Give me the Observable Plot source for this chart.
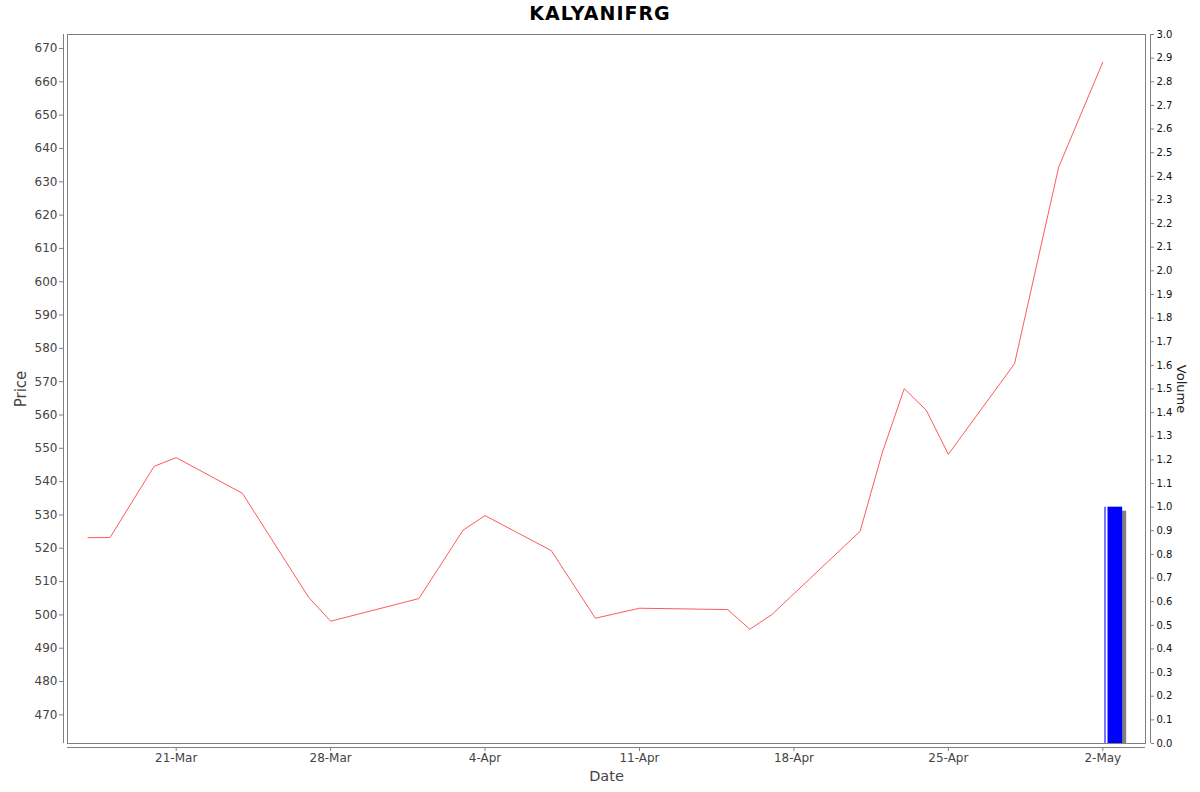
<!DOCTYPE html>
<html><head><meta charset="utf-8">
<script src="https://cdn.jsdelivr.net/npm/d3@7"></script>
<script src="https://cdn.jsdelivr.net/npm/@observablehq/plot@0.6"></script>
<style>
body{margin:0;background:#fff;font-family:"DejaVu Sans",sans-serif;}
#title{height:26px;line-height:27px;text-align:center;font-weight:bold;font-size:19px;letter-spacing:1px;color:#000;}
#wrap{position:relative;width:1200px;height:766px;}
#wrap svg{position:absolute;left:0;top:0;}
</style></head><body>
<div id="title">KALYANIFRG</div>
<div id="wrap"></div>
<script>
const dates = ["2025-03-17","2025-03-18","2025-03-20","2025-03-21","2025-03-24","2025-03-27","2025-03-28",
  "2025-04-01","2025-04-03","2025-04-04","2025-04-07","2025-04-09","2025-04-11","2025-04-15","2025-04-16",
  "2025-04-17","2025-04-21","2025-04-22","2025-04-23","2025-04-24","2025-04-25","2025-04-28","2025-04-30","2025-05-02"];
const prices = [523.2,523.2,544.6,547.2,536.5,505.3,498.1,504.9,525.4,529.8,519.3,499.0,502.0,501.6,495.7,
  500.1,525.1,548.6,567.9,561.4,548.2,575.4,634.4,665.9];
const volDates = ["2025-05-02"];
const volumes = [1.0];
const priceTicks = [470,480,490,500,510,520,530,540,550,560,570,580,590,600,610,620,630,640,650,660,670];
const volumeTicks = [0.0,0.1,0.2,0.3,0.4,0.5,0.6,0.7,0.8,0.9,1.0,1.1,1.2,1.3,1.4,1.5,1.6,1.7,1.8,1.9,2.0,
  2.1,2.2,2.3,2.4,2.5,2.6,2.7,2.8,2.9,3.0];
const dateTicks = ["2025-03-21","2025-03-28","2025-04-04","2025-04-11","2025-04-18","2025-04-25","2025-05-02"];

const parse = s => new Date(s + "T00:00:00Z");
const data = dates.map((d, i) => ({date: parse(d), price: prices[i]}));
const volData = volDates.map((d, i) => ({date: parse(d), volume: volumes[i]}));
const day = 864e5;
const xDomain = [new Date(Date.UTC(2025, 2, 16, 1, 45)), new Date(Date.UTC(2025, 4, 3, 22, 27))];
const yDomain = [461.4, 674.2];
const gray = "#808080";
const font = "DejaVu Sans, sans-serif";
const common = {width: 1200, height: 766, marginTop: 8, marginBottom: 49, marginLeft: 67, marginRight: 55};

const pricePlot = Plot.plot({
  ...common,
  x: {type: "utc", domain: xDomain},
  y: {domain: yDomain},
  style: {fontFamily: font, background: "white", overflow: "visible"},
  marks: [
    Plot.frame({stroke: gray}),
    Plot.ruleX([xDomain[0]], {stroke: gray, dx: -4}),
    Plot.ruleY([yDomain[0]], {stroke: gray, dy: 4}),
    Plot.axisY({anchor: "left", ticks: priceTicks, tickSize: 4, tickPadding: 2, dx: -4, fontSize: 12,
      fill: "#444", stroke: gray, label: null}),
    Plot.axisX({anchor: "bottom", ticks: dateTicks.map(parse), tickFormat: d3.utcFormat("%-d-%b"),
      tickSize: 4, tickPadding: 2, dy: 4, fontSize: 12, fill: "#444", stroke: gray, label: null}),
    Plot.line(data, {x: "date", y: "price", stroke: "#ff5a5a", strokeWidth: 1}),
    Plot.text(["Price"], {frameAnchor: "left", dx: -46.5, rotate: -90, textAnchor: "middle", fontSize: 15, fill: "#444"}),
    Plot.text(["Date"], {frameAnchor: "bottom", dy: 37, textAnchor: "middle", fontSize: 14.5, fill: "#444"})
  ]
});

const bx1 = d => new Date(+d.date + 0.1 * day);
const bx2 = d => new Date(+d.date + 0.9 * day);
const volPlot = Plot.plot({
  ...common,
  x: {type: "utc", domain: xDomain, axis: null},
  y: {domain: [0, 3]},
  style: {fontFamily: font, background: "transparent", overflow: "visible"},
  marks: [
    Plot.rectY(volData, {x1: bx1, x2: bx2, y: "volume", fill: gray, dx: 4, dy: 4, clip: true}),
    Plot.rectY(volData, {x1: bx1, x2: bx2, y: "volume", fill: "#0000ff", insetLeft: 3}),
    Plot.ruleX(volData, {x: bx1, y1: 0, y2: "volume", stroke: "#4a4aff", strokeWidth: 1.5}),
    Plot.ruleX([xDomain[1]], {stroke: gray, dx: 5}),
    Plot.axisY({anchor: "right", ticks: volumeTicks, tickFormat: d => d.toFixed(1), tickSize: 3, tickPadding: 3,
      dx: 5, fontSize: 10, fill: "#111", stroke: gray, label: null}),
    Plot.text(["Volume"], {frameAnchor: "right", dx: 36, rotate: 90, textAnchor: "middle", fontSize: 13, fill: "#222"})
  ]
});

const wrap = document.getElementById("wrap");
wrap.appendChild(pricePlot);
wrap.appendChild(volPlot);
</script>
</body></html>
